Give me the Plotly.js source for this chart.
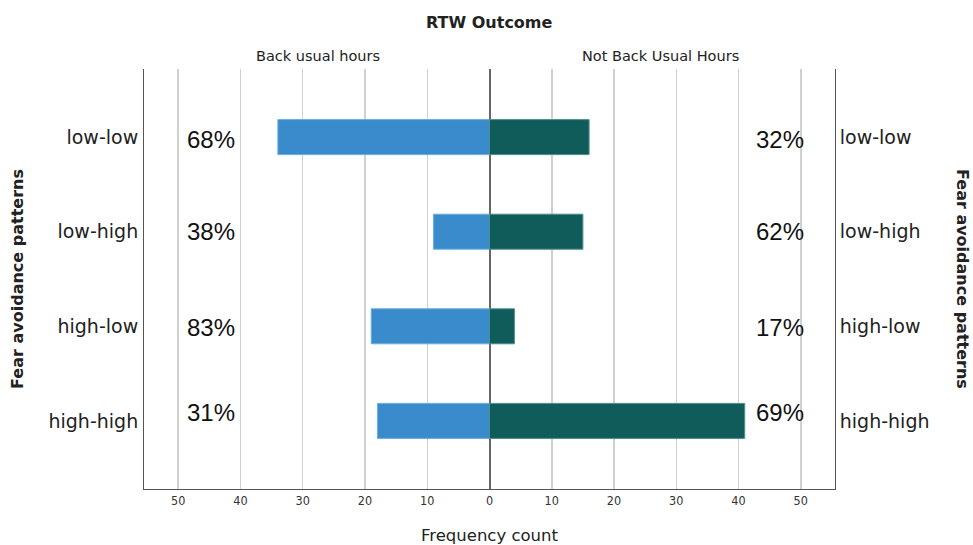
<!DOCTYPE html>
<html>
<head>
<meta charset="utf-8">
<script src="https://cdn.plot.ly/plotly-3.0.1.min.js"></script>
<style>html,body{margin:0;padding:0;background:#fff;}#chart{width:973px;height:545px;}</style>
</head>
<body>
<div id="chart"></div>
<script>
// Data
const categories = ["low-low", "low-high", "high-low", "high-high"];
const backUsualHours = [34, 9, 19, 18];
const notBackUsualHours = [16, 15, 4, 41];
const backPctLabels = ["68%", "38%", "83%", "31%"];
const notBackPctLabels = ["32%", "62%", "17%", "69%"];
const tickValues = [-50, -40, -30, -20, -10, 0, 10, 20, 30, 40, 50];
const tickLabels = ["50", "40", "30", "20", "10", "0", "10", "20", "30", "40", "50"];

const blue = "#3a8bcb";
const teal = "#0f5c5a";

const traces = [
  {
    type: "bar", orientation: "h", y: categories,
    x: backUsualHours.map(v => -v), base: 0,
    width: 0.37,
    marker: {color: blue, line: {color: "#6aaee0", width: 1}},
    hoverinfo: "skip", showlegend: false
  },
  {
    type: "bar", orientation: "h", y: categories,
    x: notBackUsualHours, base: 0,
    width: 0.37,
    marker: {color: teal, line: {color: "#4d8f8c", width: 1}},
    hoverinfo: "skip", showlegend: false
  },
  {
    type: "scatter", mode: "markers", y: categories, x: categories.map(() => 0),
    yaxis: "y2", marker: {opacity: 0}, hoverinfo: "skip", showlegend: false
  }
];

const annotations = [];
const pctYShift = [-2, 0, -1, 8];
const pctFont = {family: "Liberation Sans, Arial, sans-serif", size: 24, color: "#111"};
categories.forEach((c, i) => {
  annotations.push({x: -44.8, y: c, xref: "x", yref: "y", text: backPctLabels[i], showarrow: false,
    yanchor: "middle", yshift: pctYShift[i], font: pctFont});
  annotations.push({x: 46.6, y: c, xref: "x", yref: "y", text: notBackPctLabels[i], showarrow: false,
    yanchor: "middle", yshift: pctYShift[i], font: pctFont});
});
annotations.push({x: 0.5, y: 1, xref: "paper", yref: "paper", yanchor: "middle", yshift: 47, text: "<b>RTW Outcome</b>", showarrow: false,
  font: {family: "DejaVu Sans, sans-serif", size: 16, color: "#222"}});
annotations.push({x: -27.5, y: 1, xref: "x", yref: "paper", yanchor: "middle", yshift: 13, text: "Back usual hours", showarrow: false,
  font: {family: "DejaVu Sans, sans-serif", size: 14.5, color: "#222"}});
annotations.push({x: 27.5, y: 1, xref: "x", yref: "paper", yanchor: "middle", yshift: 13, text: "Not Back Usual Hours", showarrow: false,
  font: {family: "DejaVu Sans, sans-serif", size: 14.5, color: "#222"}});
annotations.push({x: 1, y: 0.5, xref: "paper", yref: "paper", xanchor: "center", yanchor: "middle", xshift: 128, text: "<b>Fear avoidance patterns</b>", showarrow: false,
  textangle: 90, font: {family: "DejaVu Sans, sans-serif", size: 16, color: "#222"}});

const yrange = [3.72, -0.72];
const layout = {
  width: 973, height: 545,
  margin: {l: 144, r: 138, t: 69, b: 56},
  paper_bgcolor: "#fff", plot_bgcolor: "#fff",
  barmode: "overlay",
  font: {family: "DejaVu Sans, sans-serif", color: "#222"},
  xaxis: {
    range: [-55.5, 55.5], tickvals: tickValues, ticktext: tickLabels,
    showgrid: true, gridcolor: "#d0d0d0", gridwidth: 1.5,
    zeroline: true, zerolinecolor: "#666", zerolinewidth: 2,
    showline: true, linecolor: "#555", linewidth: 1, ticks: "", fixedrange: true,
    tickfont: {family: "DejaVu Sans Condensed, DejaVu Sans, sans-serif", size: 12.5, color: "#333"},
    title: {text: "Frequency count", standoff: 25, font: {family: "DejaVu Sans, sans-serif", size: 16.5, color: "#222"}}
  },
  yaxis: {
    type: "category", range: yrange, showgrid: false, zeroline: false,
    showline: true, linecolor: "#555", linewidth: 1, ticks: "", ticklabelstandoff: 1,
    tickfont: {family: "DejaVu Sans, sans-serif", size: 19, color: "#222"},
    title: {text: "<b>Fear avoidance patterns</b>", standoff: 20, font: {family: "DejaVu Sans, sans-serif", size: 16, color: "#222"}}
  },
  yaxis2: {
    type: "category", range: yrange, overlaying: "y", side: "right", showgrid: false, zeroline: false,
    showline: true, linecolor: "#555", linewidth: 1, ticks: "", ticklabelstandoff: 0,
    tickfont: {family: "DejaVu Sans, sans-serif", size: 19, color: "#222"}
  },
  annotations: annotations
};

Plotly.newPlot("chart", traces, layout, {displayModeBar: false, staticPlot: true});
</script>
</body>
</html>
